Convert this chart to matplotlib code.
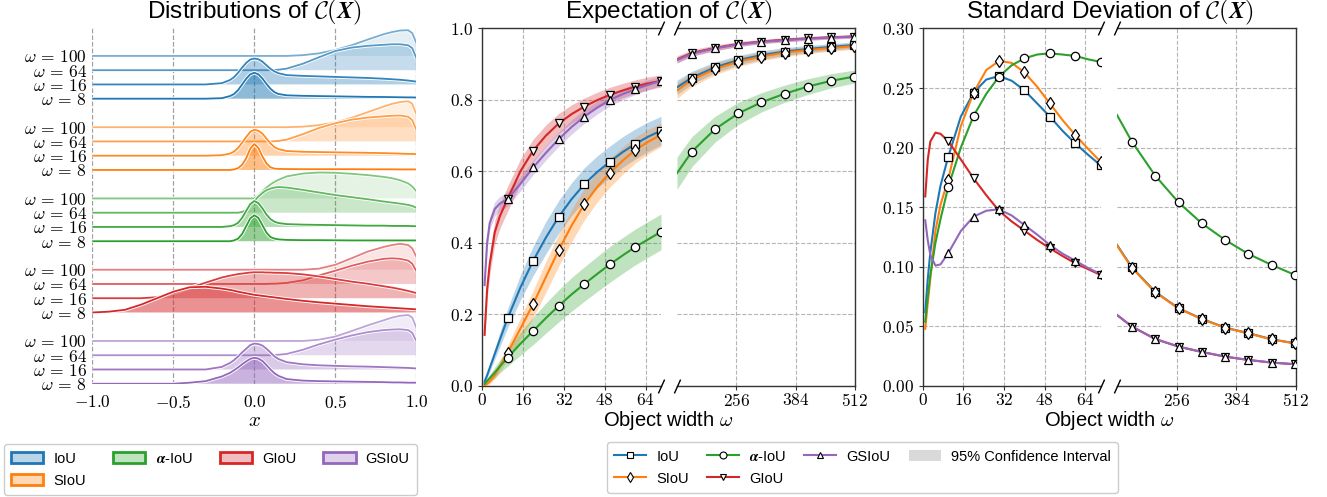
import numpy as np
import matplotlib
matplotlib.use('Agg')
import matplotlib.pyplot as plt
from matplotlib.patches import Patch
from matplotlib.lines import Line2D
from matplotlib.ticker import FuncFormatter
from matplotlib.mathtext import MathTextParser
from matplotlib.colors import to_rgba

plt.rcParams['font.family'] = ['Liberation Sans', 'DejaVu Sans']
plt.rcParams['mathtext.fontset'] = 'cm'

# ---------------------------------------------------------------- data
METHODS = ['IoU', 'SIoU', 'alpha-IoU', 'GIoU', 'GSIoU']
COLORS = ['#1f77b4', '#ff7f0e', '#2ca02c', '#d62728', '#9467bd']
MARKERS = ['s', 'd', 'o', 'v', '^']
OMEGAS = [100, 64, 16, 8]

# ridge plot x grid
XG = [-1.0, -0.9, -0.8, -0.7, -0.6, -0.5, -0.4, -0.3,
      -0.2, -0.15, -0.125, -0.1, -0.075, -0.05, -0.025,
      0.0,
      0.025, 0.05, 0.075, 0.1, 0.125, 0.15, 0.2,
      0.3, 0.4, 0.5, 0.6, 0.7, 0.8,
      0.85, 0.9, 0.95, 0.975, 1.0]

# normalised densities (peak = 1)
IOU_W100 = [0, 0, 0, 0, 0, 0, 0, 0, 0, 0, 0, 0, 0, 0, 0, 0, 0, 0, 0, 0, 0, 0, 0,
            0.03, 0.1, 0.23, 0.41, 0.63, 0.84, 0.92, 0.98, 0.99, 0.88, 0.5]
IOU_W64 = [0, 0, 0, 0, 0, 0, 0, 0, 0, 0, 0, 0, 0, 0, 0, 0, 0, 0, 0, 0, 0.01, 0.02, 0.06,
           0.25, 0.5, 0.74, 0.87, 0.94, 0.98, 1.0, 1.0, 0.96, 0.85, 0.47]
IOU_W16 = [0, 0, 0, 0, 0, 0, 0, 0, 0.05, 0.17, 0.28, 0.45, 0.65, 0.83, 0.96, 1.0,
           0.97, 0.88, 0.74, 0.6, 0.5, 0.43, 0.36, 0.33, 0.31, 0.29, 0.27, 0.25, 0.22,
           0.2, 0.18, 0.15, 0.13, 0.11]
IOU_W8 = [0, 0, 0, 0, 0, 0, 0, 0, 0.02, 0.1, 0.18, 0.33, 0.55, 0.77, 0.94, 1.0,
          0.94, 0.78, 0.57, 0.38, 0.25, 0.18, 0.13, 0.11, 0.1, 0.09, 0.08, 0.07, 0.065,
          0.06, 0.055, 0.05, 0.05, 0.045]

SIOU_W100 = [0, 0, 0, 0, 0, 0, 0, 0, 0, 0, 0, 0, 0, 0, 0, 0, 0, 0, 0, 0, 0, 0, 0,
             0.02, 0.08, 0.18, 0.36, 0.58, 0.8, 0.9, 0.97, 1.0, 0.9, 0.5]
SIOU_W64 = [0, 0, 0, 0, 0, 0, 0, 0, 0, 0, 0, 0, 0, 0, 0, 0, 0, 0, 0, 0, 0.01, 0.02, 0.07,
            0.28, 0.52, 0.7, 0.84, 0.92, 0.97, 0.99, 1.0, 0.95, 0.82, 0.45]
SIOU_W16 = [0, 0, 0, 0, 0, 0, 0, 0, 0.02, 0.08, 0.16, 0.3, 0.5, 0.72, 0.92, 1.0,
            0.96, 0.85, 0.66, 0.47, 0.33, 0.25, 0.18, 0.15, 0.14, 0.13, 0.12, 0.11, 0.1,
            0.09, 0.08, 0.07, 0.07, 0.06]
SIOU_W8 = [0, 0, 0, 0, 0, 0, 0, 0, 0, 0, 0.02, 0.07, 0.2, 0.45, 0.82, 1.0,
           0.85, 0.52, 0.25, 0.1, 0.05, 0.04, 0.035, 0.03, 0.03, 0.03, 0.03, 0.025, 0.025,
           0.025, 0.02, 0.02, 0.02, 0.02]

AIOU_W100 = [0, 0, 0, 0, 0, 0, 0, 0, 0, 0, 0, 0, 0, 0, 0, 0,
             0.12, 0.27, 0.42, 0.54, 0.64, 0.72, 0.85, 0.96, 1.0, 0.99, 0.95, 0.9, 0.83,
             0.78, 0.7, 0.58, 0.46, 0.28]
AIOU_W64 = [0, 0, 0, 0, 0, 0, 0, 0, 0, 0, 0, 0, 0.03, 0.1, 0.25, 0.45,
            0.62, 0.76, 0.87, 0.93, 0.97, 0.99, 0.97, 0.88, 0.78, 0.68, 0.6, 0.52, 0.43,
            0.39, 0.35, 0.3, 0.26, 0.19]
AIOU_W16 = [0, 0, 0, 0, 0, 0, 0, 0, 0, 0.03, 0.07, 0.16, 0.35, 0.62, 0.88, 1.0,
            0.92, 0.72, 0.48, 0.3, 0.2, 0.15, 0.11, 0.09, 0.08, 0.07, 0.06, 0.05, 0.05,
            0.04, 0.04, 0.04, 0.03, 0.03]
AIOU_W8 = [0, 0, 0, 0, 0, 0, 0, 0, 0, 0, 0.03, 0.1, 0.28, 0.58, 0.88, 1.0,
           0.9, 0.62, 0.33, 0.16, 0.1, 0.07, 0.05, 0.04, 0.04, 0.035, 0.03, 0.03, 0.03,
           0.03, 0.03, 0.03, 0.03, 0.03]

GIOU_W100 = [0, 0, 0, 0, 0, 0, 0, 0, 0, 0, 0, 0, 0, 0, 0, 0, 0, 0, 0, 0, 0, 0, 0,
             0.0, 0.04, 0.19, 0.44, 0.7, 0.88, 0.95, 1.0, 0.95, 0.82, 0.5]
GIOU_W64 = [0, 0, 0, 0, 0, 0, 0, 0, 0, 0, 0, 0, 0, 0, 0, 0, 0, 0, 0, 0.01, 0.01, 0.02, 0.04,
            0.14, 0.33, 0.51, 0.7, 0.86, 0.97, 0.99, 0.97, 0.9, 0.78, 0.5]
GIOU_W16 = [0, 0, 0, 0, 0.04, 0.2, 0.4, 0.6, 0.8, 0.87, 0.9, 0.93, 0.95, 0.97, 0.99, 1.0,
            1.0, 1.0, 0.99, 0.99, 0.98, 0.98, 0.97, 0.92, 0.84, 0.74, 0.64, 0.56, 0.46,
            0.41, 0.35, 0.28, 0.24, 0.2]
GIOU_W8 = [0.0, 0.03, 0.1, 0.3, 0.55, 0.8, 0.97, 0.99, 0.92, 0.87, 0.84, 0.8, 0.77, 0.74, 0.71,
           0.68, 0.66, 0.64, 0.62, 0.6, 0.58, 0.56, 0.52, 0.45, 0.39, 0.34, 0.29, 0.24, 0.2,
           0.18, 0.16, 0.14, 0.13, 0.12]

GSIOU_W100 = [0, 0, 0, 0, 0, 0, 0, 0, 0, 0, 0, 0, 0, 0, 0, 0, 0, 0, 0, 0, 0, 0, 0,
              0.0, 0.05, 0.17, 0.38, 0.6, 0.8, 0.9, 0.97, 1.0, 0.9, 0.51]
GSIOU_W64 = [0, 0, 0, 0, 0, 0, 0, 0, 0, 0, 0, 0, 0, 0, 0, 0, 0, 0, 0, 0, 0.01, 0.02, 0.05,
             0.21, 0.42, 0.6, 0.76, 0.89, 0.97, 0.99, 1.0, 0.97, 0.86, 0.55]
GSIOU_W16 = [0, 0, 0, 0, 0, 0, 0, 0, 0.1, 0.25, 0.36, 0.5, 0.66, 0.8, 0.94, 1.0,
             0.98, 0.92, 0.8, 0.65, 0.5, 0.4, 0.28, 0.2, 0.16, 0.14, 0.12, 0.11, 0.09,
             0.08, 0.07, 0.06, 0.05, 0.04]
GSIOU_W8 = [0, 0, 0, 0, 0, 0, 0.04, 0.1, 0.28, 0.42, 0.52, 0.63, 0.75, 0.86, 0.96, 1.0,
            0.97, 0.88, 0.72, 0.55, 0.4, 0.3, 0.18, 0.12, 0.1, 0.09, 0.08, 0.07, 0.06,
            0.05, 0.05, 0.04, 0.04, 0.04]

# object widths (left / right part of the broken axes)
XL = [1, 2, 3, 5, 7, 10, 15, 20, 25, 30, 35, 40, 45, 50, 55, 60, 65, 70]
XR = [128, 160, 210, 260, 310, 360, 410, 460, 510, 512]
MARK_L = [10, 20, 30, 40, 50, 60, 70]
MARK_R = [160, 210, 260, 310, 360, 410, 460, 510]

# expectation
E_IOU_L = [0.012, 0.03, 0.05, 0.09, 0.13, 0.189, 0.275, 0.35, 0.415, 0.473, 0.522, 0.564, 0.598, 0.627, 0.654, 0.677, 0.697, 0.714]
E_IOU_R = [0.835, 0.862, 0.891, 0.911, 0.925, 0.935, 0.942, 0.948, 0.953, 0.953]
E_SIOU_L = [0.002, 0.006, 0.012, 0.03, 0.055, 0.093, 0.16, 0.229, 0.305, 0.38, 0.448, 0.508, 0.556, 0.596, 0.63, 0.66, 0.683, 0.702]
E_SIOU_R = [0.826, 0.856, 0.886, 0.907, 0.921, 0.932, 0.939, 0.945, 0.95, 0.95]
E_AIOU_L = [0.006, 0.014, 0.022, 0.038, 0.055, 0.079, 0.118, 0.154, 0.19, 0.224, 0.256, 0.285, 0.313, 0.34, 0.365, 0.389, 0.41, 0.431]
E_AIOU_R = [0.595, 0.655, 0.718, 0.762, 0.793, 0.817, 0.837, 0.853, 0.865, 0.866]
E_GIOU_L = [0.143, 0.27, 0.34, 0.43, 0.475, 0.523, 0.6, 0.658, 0.7, 0.734, 0.76, 0.781, 0.799, 0.814, 0.826, 0.837, 0.846, 0.853]
E_GIOU_R = [0.913, 0.931, 0.945, 0.956, 0.963, 0.968, 0.972, 0.975, 0.977, 0.977]
E_GSIOU_L = [0.282, 0.4, 0.455, 0.495, 0.51, 0.523, 0.565, 0.611, 0.652, 0.69, 0.724, 0.753, 0.778, 0.8, 0.816, 0.83, 0.842, 0.853]
E_GSIOU_R = [0.911, 0.929, 0.944, 0.955, 0.962, 0.967, 0.971, 0.974, 0.977, 0.977]

# 95% CI half widths
H_IOU_L = [0.004, 0.007, 0.01, 0.015, 0.02, 0.027, 0.035, 0.041, 0.045, 0.046, 0.046, 0.046, 0.045, 0.044, 0.043, 0.042, 0.041, 0.04]
H_IOU_R = [0.02, 0.018, 0.015, 0.013, 0.012, 0.011, 0.01, 0.009, 0.009, 0.009]
H_SIOU_L = [0.002, 0.004, 0.006, 0.01, 0.014, 0.02, 0.03, 0.038, 0.043, 0.045, 0.045, 0.044, 0.042, 0.04, 0.038, 0.036, 0.034, 0.033]
H_SIOU_R = [0.022, 0.019, 0.016, 0.014, 0.012, 0.011, 0.01, 0.009, 0.009, 0.009]
H_AIOU_L = [0.004, 0.007, 0.01, 0.015, 0.018, 0.024, 0.032, 0.038, 0.042, 0.045, 0.047, 0.048, 0.049, 0.05, 0.05, 0.05, 0.05, 0.05]
H_AIOU_R = [0.045, 0.042, 0.036, 0.031, 0.027, 0.024, 0.022, 0.02, 0.018, 0.018]
H_GIOU_L = [0.015, 0.025, 0.03, 0.033, 0.034, 0.035, 0.034, 0.032, 0.03, 0.028, 0.026, 0.024, 0.022, 0.021, 0.02, 0.019, 0.018, 0.017]
H_GIOU_R = [0.01, 0.009, 0.008, 0.007, 0.006, 0.006, 0.005, 0.005, 0.005, 0.005]
H_GSIOU_L = [0.01, 0.015, 0.018, 0.02, 0.02, 0.02, 0.02, 0.02, 0.02, 0.02, 0.02, 0.019, 0.018, 0.017, 0.016, 0.015, 0.014, 0.013]
H_GSIOU_R = [0.008, 0.007, 0.006, 0.006, 0.005, 0.005, 0.005, 0.004, 0.004, 0.004]

# standard deviation
S_IOU_L = [0.062, 0.09, 0.112, 0.145, 0.168, 0.192, 0.226, 0.246, 0.257, 0.26, 0.256, 0.248, 0.237, 0.226, 0.214, 0.2035, 0.194, 0.185]
S_IOU_R = [0.1183, 0.0995, 0.079, 0.0652, 0.0563, 0.049, 0.0443, 0.0392, 0.0358, 0.0356]
S_SIOU_L = [0.048, 0.07, 0.09, 0.13, 0.152, 0.173, 0.218, 0.246, 0.265, 0.2726, 0.271, 0.263, 0.251, 0.237, 0.223, 0.2105, 0.199, 0.188]
S_SIOU_R = [0.1178, 0.099, 0.0786, 0.065, 0.0561, 0.0488, 0.0441, 0.039, 0.0357, 0.0355]
S_AIOU_L = [0.054, 0.075, 0.093, 0.12, 0.14, 0.1666, 0.2, 0.2265, 0.245, 0.2595, 0.269, 0.2748, 0.278, 0.279, 0.278, 0.2768, 0.274, 0.2718]
S_AIOU_R = [0.2273, 0.2049, 0.1764, 0.154, 0.1364, 0.1225, 0.1107, 0.1015, 0.0931, 0.0928]
S_GIOU_L = [0.159, 0.19, 0.205, 0.2125, 0.2115, 0.2055, 0.19, 0.1742, 0.16, 0.147, 0.138, 0.1303, 0.1225, 0.1155, 0.109, 0.1029, 0.098, 0.0931]
S_GIOU_R = [0.0595, 0.0498, 0.0394, 0.033, 0.0285, 0.0246, 0.0218, 0.0196, 0.0182, 0.0181]
S_GSIOU_L = [0.139, 0.122, 0.11, 0.101, 0.102, 0.1113, 0.13, 0.142, 0.147, 0.1482, 0.143, 0.135, 0.127, 0.1183, 0.111, 0.1051, 0.099, 0.0939]
S_GSIOU_R = [0.0597, 0.0499, 0.0395, 0.0331, 0.0286, 0.0247, 0.0219, 0.0197, 0.0183, 0.0182]

# ---------------------------------------------------------------- helpers
def mt_ok(s):
    try:
        MathTextParser('path').parse(s, 72)
        return True
    except Exception:
        return False

if mt_ok(r'$\boldsymbol{\mathcal{C}(X)}$'):
    CX = r'$\boldsymbol{\mathcal{C}(X)}$'
elif mt_ok(r'$\mathcal{C}(\mathbfit{X})$'):
    CX = r'$\mathcal{C}(\mathbfit{X})$'
else:
    CX = r'$\mathcal{C}(\mathbf{X})$'
ALPHA_LBL = r'$\boldsymbol{\alpha}$-IoU' if mt_ok(r'$\boldsymbol{\alpha}$') else r'$\alpha$-IoU'
LABELS = ['IoU', 'SIoU', ALPHA_LBL, 'GIoU', 'GSIoU']

W, H = 1327, 497
fig = plt.figure(figsize=(W / 100, H / 100), dpi=100)


def ax_px(x0, x1, y0, y1):
    return fig.add_axes([x0 / W, 1 - y1 / H, (x1 - x0) / W, (y1 - y0) / H])


TICK_FS = 12.5
math_fmt1 = FuncFormatter(lambda v, p: '$%.1f$' % v)
math_fmt2 = FuncFormatter(lambda v, p: '$%.2f$' % v)
math_int = FuncFormatter(lambda v, p: '$%d$' % int(round(v)))

# ---------------------------------------------------------------- ridge plot
axR = ax_px(92.3, 416.3, 28, 384.3)
DENS = [[IOU_W100, IOU_W64, IOU_W16, IOU_W8],
        [SIOU_W100, SIOU_W64, SIOU_W16, SIOU_W8],
        [AIOU_W100, AIOU_W64, AIOU_W16, AIOU_W8],
        [GIOU_W100, GIOU_W64, GIOU_W16, GIOU_W8],
        [GSIOU_W100, GSIOU_W64, GSIOU_W16, GSIOU_W8]]
FILL_A = [0.12, 0.25, 0.35, 0.5]
LINE_A = [0.6, 0.75, 0.9, 1.0]
SCALE = 1.82
xg = np.array(XG)
ytick_pos, ytick_lbl = [], []
for g, col in enumerate(COLORS):
    top = 23 - 5 * g
    for k, d in enumerate(DENS[g]):
        base = top - k
        yv = base + SCALE * np.array(d)
        z = 10 + 4 * (23 - base)
        axR.fill_between(xg, base, yv, facecolor=col, alpha=FILL_A[k], lw=0, zorder=z)
        axR.plot(xg, yv, color='white', lw=2.6, zorder=z + 1, solid_capstyle='butt')
        axR.plot(xg, yv, color=col, alpha=LINE_A[k], lw=1.3, zorder=z + 2, solid_capstyle='butt')
        ytick_pos.append(base)
        ytick_lbl.append(r'$\omega\,=\,%d$' % OMEGAS[k])
axR.set_xlim(-1, 1)
axR.set_ylim(-0.04, 24.96)
for s in axR.spines.values():
    s.set_visible(False)
axR.set_xticks([-1, -0.5, 0, 0.5, 1])
axR.xaxis.set_major_formatter(math_fmt1)
axR.set_yticks(ytick_pos)
axR.set_yticklabels(ytick_lbl)
axR.tick_params(axis='both', length=0, labelsize=TICK_FS)
axR.tick_params(axis='x', pad=7)
axR.tick_params(axis='y', pad=4)
axR.grid(axis='x', ls='--', color='#a0a0a0', lw=0.9)
axR.set_axisbelow(True)

# ---------------------------------------------------------------- broken-axis panels
def make_pair(x0a, x1a, x0b, x1b):
    a1 = ax_px(x0a, x1a, 28.3, 386)
    a2 = ax_px(x0b, x1b, 28.3, 386)
    return a1, a2


def style_pair(a1, a2, ylim, yticks, yfmt):
    for a in (a1, a2):
        a.set_ylim(*ylim)
        a.grid(True, ls='--', color='#b5b5b5', lw=0.8)
        a.set_axisbelow(True)
        for s in a.spines.values():
            s.set_color('0.2')
            s.set_linewidth(1.0)
        a.tick_params(labelsize=TICK_FS, length=3, width=0.8, color='0.2')
        a.tick_params(axis='x', pad=1.5)
        a.tick_params(axis='y', pad=3)
    a1.spines['right'].set_visible(False)
    a2.spines['left'].set_visible(False)
    a2.tick_params(axis='y', left=False, labelleft=False)
    a1.set_xlim(0, 70)
    a2.set_xlim(128, 512)
    a1.set_xticks([0, 16, 32, 48, 64])
    a2.set_xticks([256, 384, 512])
    a1.xaxis.set_major_formatter(math_int)
    a2.xaxis.set_major_formatter(math_int)
    a1.set_yticks(yticks)
    a2.set_yticks(yticks)
    a1.yaxis.set_major_formatter(yfmt)
    kw = dict(marker=[(-0.45, -1), (0.45, 1)], markersize=10, linestyle='none',
              color='k', mec='k', mew=1.0, clip_on=False, zorder=50)
    a1.plot([1, 1], [0, 1], transform=a1.transAxes, **kw)
    a2.plot([0, 0], [0, 1], transform=a2.transAxes, **kw)


E_L = [E_IOU_L, E_SIOU_L, E_AIOU_L, E_GIOU_L, E_GSIOU_L]
E_R = [E_IOU_R, E_SIOU_R, E_AIOU_R, E_GIOU_R, E_GSIOU_R]
HW_L = [H_IOU_L, H_SIOU_L, H_AIOU_L, H_GIOU_L, H_GSIOU_L]
HW_R = [H_IOU_R, H_SIOU_R, H_AIOU_R, H_GIOU_R, H_GSIOU_R]
S_L = [S_IOU_L, S_SIOU_L, S_AIOU_L, S_GIOU_L, S_GSIOU_L]
S_R = [S_IOU_R, S_SIOU_R, S_AIOU_R, S_GIOU_R, S_GSIOU_R]

xl = np.array(XL)
xr = np.array(XR)
ml = np.isin(xl, MARK_L)
mr = np.isin(xr, MARK_R)
MS = {'s': 6, 'd': 6.5, 'o': 6, 'v': 6, '^': 6}

axE1, axE2 = make_pair(482, 661, 677, 855)
axS1, axS2 = make_pair(922.7, 1100.7, 1117, 1296)

for i in range(5):
    col, mk = COLORS[i], MARKERS[i]
    for ax, xx, yy, hh, mm in ((axE1, xl, E_L[i], HW_L[i], ml), (axE2, xr, E_R[i], HW_R[i], mr)):
        yy = np.array(yy)
        hh = np.array(hh)
        ax.fill_between(xx, yy - hh, yy + hh, color=col, alpha=0.3, lw=0, zorder=2)
        ax.plot(xx, yy, color=col, lw=1.5, zorder=3 + i * 0.1)
        ax.plot(xx[mm], yy[mm], ls='none', marker=mk, ms=MS[mk], mfc='white',
                mec='black', mew=0.9, zorder=10)
    for ax, xx, yy, mm in ((axS1, xl, S_L[i], ml), (axS2, xr, S_R[i], mr)):
        yy = np.array(yy)
        ax.plot(xx, yy, color=col, lw=1.5, zorder=3 + i * 0.1)
        ax.plot(xx[mm], yy[mm], ls='none', marker=mk, ms=MS[mk], mfc='white',
                mec='black', mew=0.9, zorder=10)

style_pair(axE1, axE2, (0, 1.0), [0, 0.2, 0.4, 0.6, 0.8, 1.0], math_fmt1)
style_pair(axS1, axS2, (0, 0.30), [0, 0.05, 0.10, 0.15, 0.20, 0.25, 0.30], math_fmt2)

# ---------------------------------------------------------------- titles / labels
TITLE_FS = 17.5
fig.text(254.3 / W, 1 - 12.5 / H, 'Distributions of ' + CX, ha='center', va='center', fontsize=TITLE_FS)
fig.text(668.5 / W, 1 - 12.5 / H, 'Expectation of ' + CX, ha='center', va='center', fontsize=TITLE_FS)
fig.text(1109.4 / W, 1 - 12.5 / H, 'Standard Deviation of ' + CX, ha='center', va='center', fontsize=TITLE_FS)
fig.text(254.3 / W, 1 - 421 / H, r'$x$', ha='center', va='center', fontsize=15)
fig.text(668.5 / W, 1 - 421 / H, r'Object width $\omega$', ha='center', va='center', fontsize=14.5)
fig.text(1109.4 / W, 1 - 421 / H, r'Object width $\omega$', ha='center', va='center', fontsize=14.5)

# ---------------------------------------------------------------- legends
h1 = [Patch(facecolor=to_rgba(c, 0.3), edgecolor=c, lw=2) for c in COLORS]
fig.legend(h1, LABELS, ncol=4, loc='lower left', mode='expand',
           bbox_to_anchor=(4 / W, 2 / H, 413 / W, 53 / H), fontsize=10.5,
           handlelength=2.2, handleheight=0.8, handletextpad=0.7, labelspacing=0.55,
           borderpad=0.5, borderaxespad=0.0, framealpha=1)

h2 = [Line2D([], [], color=c, lw=1.5, marker=m, ms=5, mfc='white', mec='black', mew=0.8)
      for c, m in zip(COLORS, MARKERS)]
h2.append(Patch(facecolor='#d9d9d9', edgecolor='none'))
fig.legend(h2, LABELS + ['95% Confidence Interval'], ncol=4, loc='lower left', mode='expand',
           bbox_to_anchor=(607 / W, 4 / H, 511 / W, 55 / H), fontsize=10.5,
           handlelength=2.2, handleheight=0.8, handletextpad=0.7, labelspacing=0.55,
           borderpad=0.5, borderaxespad=0.0, framealpha=1)

fig.savefig('out.png', dpi=100)
